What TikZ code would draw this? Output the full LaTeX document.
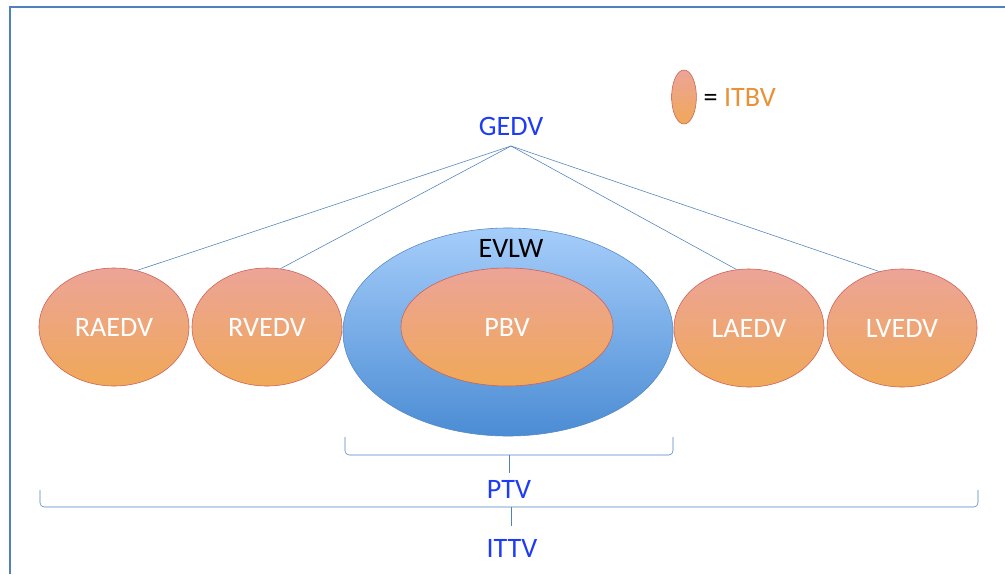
\documentclass[tikz,border=0pt]{standalone}
\usepackage{fontspec}
\setmainfont{Carlito}
\usetikzlibrary{shapes.geometric, positioning}
\definecolor{edvtop}{RGB}{236,164,152}
\definecolor{edvbot}{RGB}{240,168,88}
\definecolor{edvline}{RGB}{205,95,85}
\definecolor{evlwtop}{RGB}{165,205,250}
\definecolor{evlwbot}{RGB}{75,140,212}
\definecolor{evlwline}{RGB}{85,135,195}
\definecolor{linkblue}{RGB}{79,129,189}
\definecolor{labelblue}{RGB}{30,60,245}
\definecolor{itbvorange}{RGB}{232,145,55}
\tikzset{
  edv/.style={
    ellipse,
    draw=edvline,
    top color=edvtop,
    bottom color=edvbot,
    minimum width=3.75cm,
    minimum height=2.95cm,
    text=white,
    font=\fontsize{20}{24}\selectfont,
  },
  evlw/.style={
    ellipse,
    draw=evlwline,
    top color=evlwtop,
    bottom color=evlwbot,
    minimum width=8.25cm,
    minimum height=5.2cm,
  },
  vlabel/.style={
    text=labelblue,
    font=\fontsize{20}{24}\selectfont,
  },
  link/.style={
    draw=linkblue,
    thin
  },
  bracket/.style={
    draw=linkblue,
    rounded corners=3pt
  }
}
\begin{document}
\begin{tikzpicture}[x=0.025cm, y=-0.025cm]
  \useasboundingbox (0,0) rectangle (1005,574);
  % frame
  \draw[linkblue, line width=1.5pt] (1005,7) -- (10,7) -- (10,574);

  % volumes
  \node[evlw] (evlw) at (508,332) {};
  \node[font=\fontsize{20}{24}\selectfont] (evlwlabel) at (511,248) {EVLW};
  \node[edv, minimum width=5.3cm] (pbv) at (507,327) {PBV};
  \node[edv] (rae) at (114,327) {RAEDV};
  \node[edv] (rve) at (267,327) {RVEDV};
  \node[edv] (lae) at (749,328) {LAEDV};
  \node[edv] (lve) at (902,328) {LVEDV};

  % legend
  \node[edv, minimum width=0.62cm, minimum height=1.35cm] (key) at (684,97) {};
  \node[right=0.5mm of key, font=\fontsize{20}{24}\selectfont] (keytext) {= \textcolor{itbvorange}{ITBV}};

  % GEDV
  \node[vlabel] (gedv) at (511,126) {GEDV};
  \coordinate (apex) at (511,146);
  \draw[link] (apex) -- (rae.68);
  \draw[link] (apex) -- (rve.77);
  \draw[link] (apex) -- (lae.102);
  \draw[link] (apex) -- (lve.112);

  % brackets
  \coordinate (ptvl) at (345,437);
  \coordinate (ptvr) at (673,437);
  \coordinate (ptvmid) at (509,455);
  \coordinate (ptvtip) at (509,473);
  \draw[bracket] (ptvl) |- (ptvmid) -| (ptvr);
  \draw[link] (ptvmid) -- (ptvtip);
  \node[vlabel] (ptv) at (509,489) {PTV};
  \coordinate (ittvl) at (40,490);
  \coordinate (ittvr) at (978,490);
  \coordinate (ittvmid) at (511,507);
  \coordinate (ittvtip) at (511,526);
  \draw[bracket] (ittvl) |- (ittvmid) -| (ittvr);
  \draw[link] (ittvmid) -- (ittvtip);
  \node[vlabel] (ittv) at (512,548) {ITTV};
\end{tikzpicture}
\end{document}
